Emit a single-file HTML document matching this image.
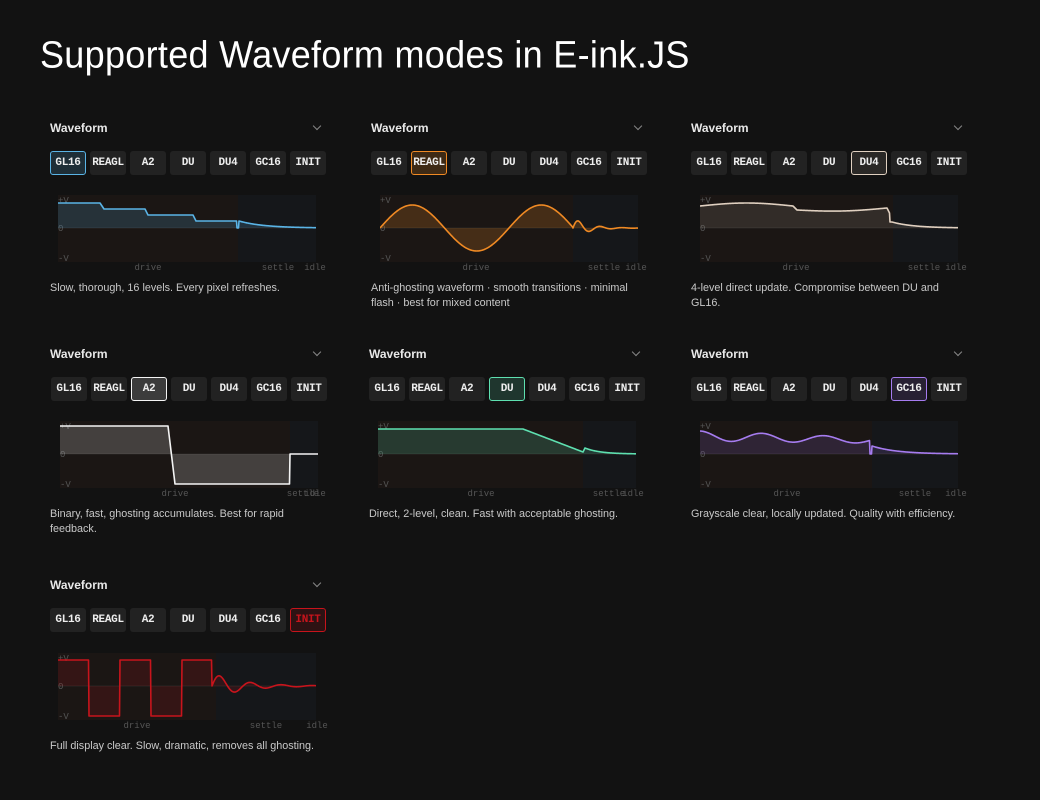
<!DOCTYPE html>
<html><head><meta charset="utf-8"><style>
body{margin:0;background:#121212;width:1040px;height:800px;overflow:hidden;position:relative;font-family:"Liberation Sans",sans-serif;color:#ddd}
.h1{position:absolute;left:40px;top:34px;font-family:"Comic Sans MS","Liberation Sans",sans-serif;font-size:36px;color:#fff;letter-spacing:0.3px;font-weight:normal;transform:scaleY(1.05)}
.t{position:absolute;font-size:12px;font-weight:bold;color:#e8e8e8}
.chev{position:absolute;width:5px;height:5px;border-right:1.3px solid #888;border-bottom:1.3px solid #888;transform:rotate(45deg)}
.b{position:absolute;width:36px;height:24px;background:#222;border-radius:3px;font-family:"Liberation Mono",monospace;font-weight:bold;font-size:11px;color:#eee;text-align:center;line-height:24px;box-sizing:border-box;letter-spacing:-0.3px}
.l{position:absolute;font-family:"Liberation Mono",monospace;font-size:9px;color:#555;transform:translateX(-50%)}
.d{position:absolute;font-size:10.8px;color:#c8c8c8;line-height:15px;width:276px}
svg{position:absolute}
</style></head><body>
<div class="h1">Supported Waveform modes in E-ink.JS</div>
<div id="root"></div>
<script>
const names=["GL16","REAGL","A2","DU","DU4","GC16","INIT"];
const W=258,H=67,P=5,Z=33,N=63;
function gl16(x){if(x<42)return 8;if(x<46)return 8+(x-42)*1.5;if(x<87)return 14;if(x<90)return 14+(x-87)*2;if(x<135)return 20;if(x<138)return 20+(x-135)*2;if(x<179)return 26;if(x<181)return 33;return 33-7*Math.exp(-(x-181)/25);}
function reagl(x){if(x<193)return 33-23*Math.sin(2*Math.PI*x/129);let t=x-193;return 33-10*Math.exp(-t/15)*Math.sin(2*Math.PI*t/22);}
function du4(x){if(x<93)return 11-3*Math.sin(Math.PI*x/93);if(x<97)return 11+(x-93);if(x<187)return 15+2*Math.sin(Math.PI*(x-97)/90)-(x-97)/45;if(x<190)return 13+(x-187)*2;if(x<192)return 27;return 33-6*Math.exp(-(x-192)/22);}
function a2(x){if(x<108)return 5;if(x<115)return 5+(x-108)*58/7;if(x<230)return 63;return 33;}
function du(x){if(x<145)return 8;if(x<205)return 8+(x-145)*23/60;if(x<207)return 31-(x-205)*2;return 33-6*Math.exp(-(x-207)/15);}
function gc16(x){if(x<170)return 15-5*Math.cos(2*Math.PI*x/62)*(1-x/400)+x/40;if(x<172)return 33;return 33-8*Math.exp(-(x-172)/25);}
function init(x){if(x<154){let k=Math.floor(x/31);return k%2?N:P+2;}let t=x-154;return 33-13*Math.exp(-t/30)*Math.sin(2*Math.PI*t/31);}
const P_=[
{x:50,y:128,cx:58,cy:195,sx:180,col:"#5ab4e6",fill:"rgba(90,180,230,0.18)",a:0,f:gl16,lab:[148,278,315],d:"Slow, thorough, 16 levels. Every pixel refreshes."},
{x:371,y:128,cx:380,cy:195,sx:193,col:"#f08a24",fill:"rgba(240,138,36,0.2)",a:1,f:reagl,lab:[476,604,636],d:"Anti-ghosting waveform · smooth transitions · minimal flash · best for mixed content"},
{x:691,y:128,cx:700,cy:195,sx:193,col:"#e0d0c0",fill:"rgba(224,208,192,0.12)",a:4,f:du4,lab:[796,924,956],d:"4-level direct update. Compromise between DU and GL16."},
{x:50,y:354,cx:60,cy:421,sx:230,col:"#f4f4f4",fill:"rgba(255,255,255,0.18)",a:2,f:a2,lab:[175,303,315],d:"Binary, fast, ghosting accumulates. Best for rapid feedback.",bx:51},
{x:369,y:354,cx:378,cy:421,sx:205,col:"#5ee0b0",fill:"rgba(94,224,176,0.18)",a:3,f:du,lab:[481,609,633],d:"Direct, 2-level, clean. Fast with acceptable ghosting."},
{x:691,y:354,cx:700,cy:421,sx:172,col:"#a67cf0",fill:"rgba(166,124,240,0.15)",a:5,f:gc16,lab:[787,915,956],d:"Grayscale clear, locally updated. Quality with efficiency."},
{x:50,y:585,cx:58,cy:653,sx:158,col:"#c8141c",fill:"rgba(200,20,28,0.15)",a:6,f:init,lab:[137,266,317],d:"Full display clear. Slow, dramatic, removes all ghosting."}
];
let h="";
for(const p of P_){
 const by=p.y+23, bx=p.bx||p.x;
 h+=`<div class="t" style="left:${p.x}px;top:${p.y-7}px">Waveform</div><div class="chev" style="left:${p.x+264}px;top:${p.y-5}px"></div>`;
 names.forEach((n,i)=>{let st="";if(i==p.a){st=`border:1px solid ${p.col};background:${p.fill};line-height:22px;`;if(p.a==6)st+="color:#c8141c;";}
  h+=`<div class="b" style="left:${bx+i*40}px;top:${by}px;${st}">${n}</div>`;});
 let pts=[];for(let x=0;x<=W;x+=0.5)pts.push([x,p.f(x)]);
 let line="M"+pts.map(q=>q[0].toFixed(1)+","+q[1].toFixed(2)).join("L");
 let area=line+`L${W},${Z}L0,${Z}Z`;
 h+=`<svg style="left:${p.cx}px;top:${p.cy}px" width="${W}" height="${H}">
 <rect x="0" y="0" width="${p.sx}" height="${H}" fill="#1b1614"/><rect x="${p.sx}" y="0" width="${W-p.sx}" height="${H}" fill="#15171a"/>
 <line x1="0" x2="${W}" y1="${Z}" y2="${Z}" stroke="#2a2624" stroke-width="1"/>
 <text x="0" y="8" font-family="Liberation Mono" font-size="9" fill="#555">+V</text>
 <text x="0" y="36" font-family="Liberation Mono" font-size="9" fill="#555">0</text>
 <text x="0" y="${H-1}" font-family="Liberation Mono" font-size="9" fill="#555">-V</text>
 <path d="${area}" fill="${p.fill}"/><path d="${line}" fill="none" stroke="${p.col}" stroke-width="1.6" stroke-linejoin="round"/></svg>`;
 const ly=p.cy+H+1;
 h+=`<div class="l" style="left:${p.lab[0]}px;top:${ly}px">drive</div><div class="l" style="left:${p.lab[1]}px;top:${ly}px">settle</div><div class="l" style="left:${p.lab[2]}px;top:${ly}px">idle</div>`;
 h+=`<div class="d" style="left:${p.x}px;top:${p.cy+H+19}px">${p.d}</div>`;
}
document.getElementById("root").innerHTML=h;
</script>
</body></html>
